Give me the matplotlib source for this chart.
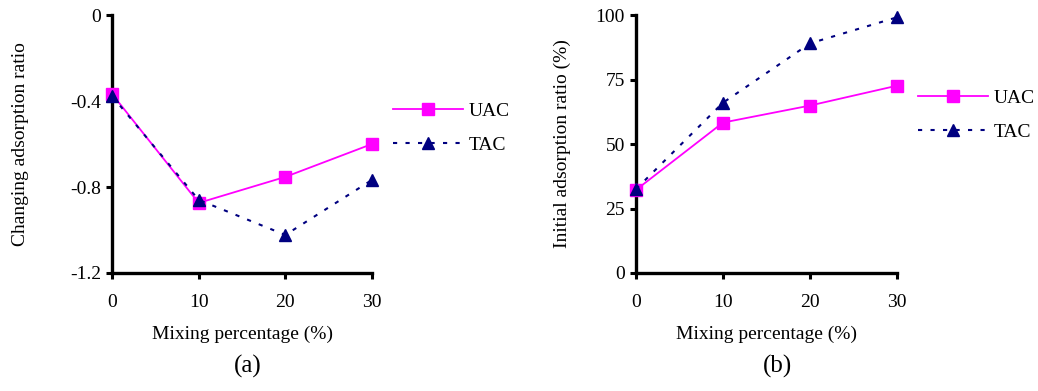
import matplotlib.pyplot as plt

plt.rcParams['font.family'] = ['Liberation Serif', 'DejaVu Serif']

# mixing percentage (%)
mixing = [0, 10, 20, 30]

# (a) changing adsorption ratio
uac_change = [-0.367, -0.874, -0.753, -0.60]
tac_change = [-0.377, -0.86, -1.023, -0.767]

# (b) initial adsorption ratio (%)
uac_init = [32.2, 58.3, 64.9, 72.6]
tac_init = [32.5, 66.0, 89.0, 99.1]

pink = '#FF00FF'
navy = '#000080'

fig = plt.figure(figsize=(10.38, 3.91), dpi=100)
ax1 = fig.add_axes([0.1079, 0.3018, 0.2505, 0.6598])
ax2 = fig.add_axes([0.6127, 0.3018, 0.2514, 0.6598])


def style_axis(ax):
    for side in ['top', 'right']:
        ax.spines[side].set_visible(False)
    for side in ['left', 'bottom']:
        ax.spines[side].set_linewidth(2.4)
    ax.tick_params(width=2.2, length=4, labelsize=14)
    ax.tick_params(axis='x', pad=11)
    ax.tick_params(axis='y', pad=4)
    ax.set_xlim(0, 30)
    ax.set_xticks(mixing)
    ax.set_xlabel('Mixing percentage (%)', fontsize=14)
    ax.xaxis.set_label_coords(0.5, -0.205)


def draw(ax, uac, tac):
    ax.plot(mixing, uac, color=pink, lw=1.3, marker='s', ms=8,
            label='UAC', clip_on=False, zorder=3)
    ax.plot(mixing, tac, color=navy, lw=1.5, ls=(0, (2, 4)), marker='^',
            ms=9, label='TAC', clip_on=False, zorder=4)


draw(ax1, uac_change, tac_change)
style_axis(ax1)
ax1.set_ylim(-1.2, 0)
ax1.set_yticks([0, -0.4, -0.8, -1.2])
ax1.set_yticklabels(['0', '-0.4', '-0.8', '-1.2'])
ax1.set_ylabel('Changing adsorption ratio', fontsize=14)
ax1.yaxis.set_label_coords(-0.32, 0.5)

draw(ax2, uac_init, tac_init)
style_axis(ax2)
ax2.set_ylim(0, 100)
ax2.set_yticks([0, 25, 50, 75, 100])
ax2.set_ylabel('Initial adsorption ratio (%)', fontsize=14)
ax2.yaxis.set_label_coords(-0.25, 0.5)

for ax, anchor in [(ax1, (393 / 1038, 1 - 128 / 391)),
                   (ax2, (918 / 1038, 1 - 115 / 391))]:
    ax.legend(loc='center left', bbox_to_anchor=anchor,
              bbox_transform=fig.transFigure, frameon=False,
              fontsize=14, handlelength=3.6, handletextpad=0.3,
              borderpad=0, borderaxespad=0, labelspacing=0.85)

fig.text(248 / 1038, 1 - 366 / 391, '(a)', fontsize=18, ha='center', va='center')
fig.text(778 / 1038, 1 - 366 / 391, '(b)', fontsize=18, ha='center', va='center')

fig.savefig('out.png', dpi=100)
